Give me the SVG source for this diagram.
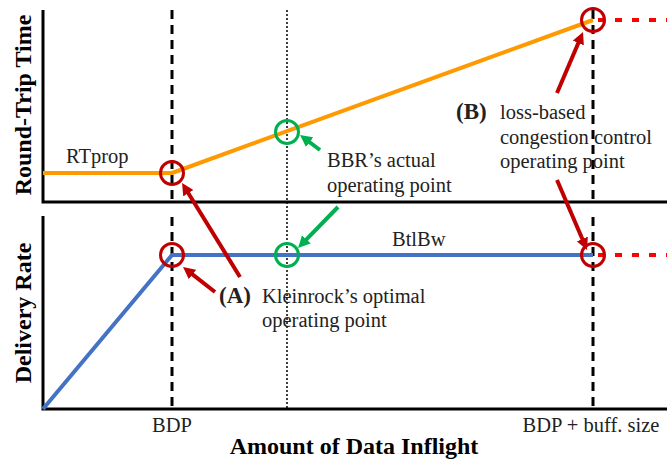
<svg xmlns="http://www.w3.org/2000/svg" width="667" height="464" viewBox="0 0 667 464">
  <style>
    .axis { stroke: #000; stroke-width: 3; fill: none; }
    .dash { stroke: #000; stroke-width: 3; stroke-dasharray: 9 6; fill: none; }
    .dot { stroke: #000; stroke-width: 1.5; stroke-dasharray: 2 2; fill: none; }
    .rtt { stroke: #FF9900; stroke-width: 4; fill: none; stroke-linejoin: round; }
    .rate { stroke: #4472C4; stroke-width: 4; fill: none; stroke-linejoin: round; }
    .loss { stroke: #FF0000; stroke-width: 4; stroke-dasharray: 7 10; fill: none; }
    .ring-red { stroke: #C00000; stroke-width: 3; fill: none; }
    .ring-green { stroke: #00B050; stroke-width: 3; fill: none; }
    .arr-red { stroke: #C00000; stroke-width: 4; fill: none; marker-end: url(#head-red); }
    .arr-green { stroke: #00B050; stroke-width: 4; fill: none; marker-end: url(#head-green); }
    text { font-family: "Liberation Serif", "Times New Roman", serif; fill: #222; }
    .lbl { font-size: 20.5px; }
    .title { font-size: 24px; font-weight: bold; fill: #000; }
    .tag { font-size: 23px; font-weight: bold; fill: #222; }
  </style>
  <defs>
    <marker id="head-red" markerUnits="userSpaceOnUse" markerWidth="14" markerHeight="12" refX="2" refY="6" orient="auto">
      <path d="M0,0 L12,6 L0,12 z" fill="#C00000"/>
    </marker>
    <marker id="head-green" markerUnits="userSpaceOnUse" markerWidth="14" markerHeight="12" refX="2" refY="6" orient="auto">
      <path d="M0,0 L12,6 L0,12 z" fill="#00B050"/>
    </marker>
  </defs>

  <!-- axes -->
  <g id="axes">
    <polyline class="axis" points="43,10 43,202 667,202"/>
    <polyline class="axis" points="43,216 43,409 667,409"/>
  </g>

  <!-- reference verticals: BDP, BBR point, BDP + buffer -->
  <g id="guides">
    <line class="dash" x1="172" y1="10" x2="172" y2="202"/>
    <line class="dash" x1="172" y1="217" x2="172" y2="409"/>
    <line class="dot" x1="287" y1="10" x2="287" y2="409"/>
    <line class="dash" x1="593" y1="10" x2="593" y2="202"/>
    <line class="dash" x1="593" y1="217" x2="593" y2="409"/>
  </g>

  <!-- curves -->
  <g id="curves">
    <polyline class="rtt" points="43,173 172,173 593,20"/>
    <polyline class="rate" points="43,409 172,255 593,255"/>
    <line class="loss" x1="598" y1="20" x2="667" y2="20"/>
    <line class="loss" x1="598" y1="255" x2="667" y2="255"/>
  </g>

  <!-- operating points -->
  <g id="point-a-rtt"><circle class="ring-red" cx="172" cy="173" r="11.5"/></g>
  <g id="point-a-rate"><circle class="ring-red" cx="172" cy="255" r="11.5"/></g>
  <g id="point-bbr-rtt"><circle class="ring-green" cx="287" cy="132" r="11.5"/></g>
  <g id="point-bbr-rate"><circle class="ring-green" cx="287" cy="255" r="11.5"/></g>
  <g id="point-b-rtt"><circle class="ring-red" cx="593" cy="20" r="11.5"/></g>
  <g id="point-b-rate"><circle class="ring-red" cx="593" cy="255" r="11.5"/></g>

  <!-- pointer arrows -->
  <g id="connectors">
    <line class="arr-red" x1="240" y1="277" x2="187.3" y2="191.5"/>
    <line class="arr-red" x1="215" y1="292" x2="190.9" y2="273.2"/>
    <line class="arr-green" x1="320" y1="150" x2="308" y2="141"/>
    <line class="arr-green" x1="338" y1="207" x2="305" y2="240.8"/>
    <line class="arr-red" x1="557" y1="93" x2="579.1" y2="41.2"/>
    <line class="arr-red" x1="557" y1="180" x2="583.1" y2="240.8"/>
  </g>

  <!-- labels -->
  <g id="label-rtprop"><text class="lbl" x="66" y="163">RTprop</text></g>
  <g id="label-btlbw"><text class="lbl" x="392" y="246">BtlBw</text></g>
  <g id="label-bbr">
    <text class="lbl" x="327" y="167">BBR’s actual</text>
    <text class="lbl" x="327" y="192">operating point</text>
  </g>
  <g id="label-b">
    <text class="tag" x="456" y="119">(B)</text>
    <text class="lbl" x="500" y="119">loss-based</text>
    <text class="lbl" x="500" y="144">congestion control</text>
    <text class="lbl" x="500" y="168">operating point</text>
  </g>
  <g id="label-a">
    <text class="tag" x="219" y="303">(A)</text>
    <text class="lbl" x="262" y="303">Kleinrock’s optimal</text>
    <text class="lbl" x="262" y="327">operating point</text>
  </g>
  <g id="ticks">
    <text class="lbl" x="172" y="432" text-anchor="middle">BDP</text>
    <text class="lbl" x="591" y="432" text-anchor="middle">BDP + buff. size</text>
  </g>
  <g id="titles">
    <text class="title" transform="translate(31,105) rotate(-90)" text-anchor="middle">Round-Trip Time</text>
    <text class="title" transform="translate(31,313) rotate(-90)" text-anchor="middle">Delivery Rate</text>
    <text class="title" x="354" y="454" text-anchor="middle">Amount of Data Inflight</text>
  </g>
</svg>
